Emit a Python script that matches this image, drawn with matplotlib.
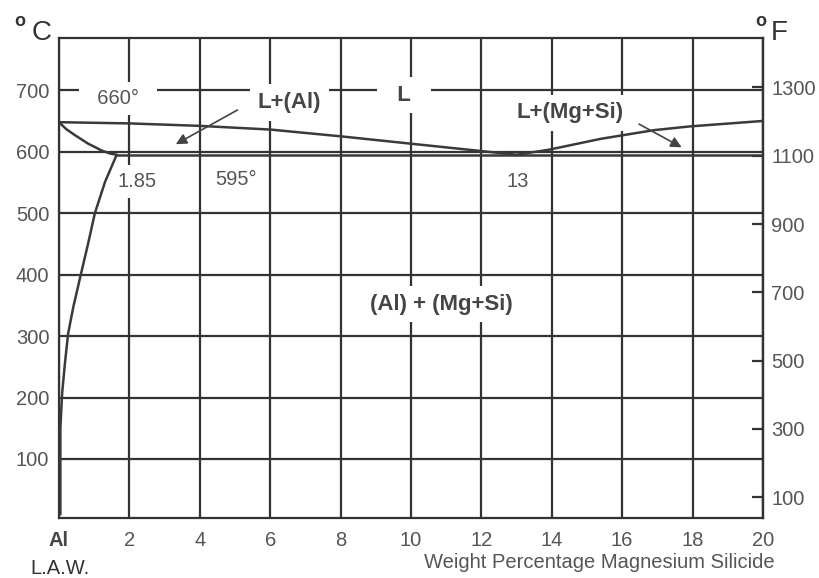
import matplotlib
matplotlib.use("Agg")
import matplotlib.pyplot as plt

plt.rcParams["font.family"] = ["Liberation Sans", "DejaVu Sans"]

# Al - Mg2Si pseudo-binary phase diagram
liq_al_x = [0, 2, 4, 6, 8, 10, 12, 13]
liq_al_t = [648, 646, 642, 636, 625, 613, 601, 595]

liq_mg_x = [13, 13.9, 15.4, 16.9, 17.9, 20]
liq_mg_t = [595, 603, 621, 635, 641, 650]

solidus_x = [0, 0.2, 0.45, 0.83, 1.21, 1.45, 1.64]
solidus_t = [648, 637, 627, 613, 602, 597, 595]

solvus_x = [0.04, 0.04, 0.09, 0.17, 0.26, 0.41, 0.6, 0.83, 1.02, 1.31, 1.64]
solvus_t = [10, 150, 207, 256, 304, 348, 395, 451, 500, 551, 595]

eutectic_x = [1.64, 20]
eutectic_t = [595, 595]

x_ticks = [0, 2, 4, 6, 8, 10, 12, 14, 16, 18, 20]
x_labels = ["Al", "2", "4", "6", "8", "10", "12", "14", "16", "18", "20"]
c_ticks = [100, 200, 300, 400, 500, 600, 700]
f_ticks = [100, 300, 500, 700, 900, 1100, 1300]

LINE = "#333333"
TXT = "#555555"
BOLD = "#454545"

fig = plt.figure(figsize=(8.19, 5.78), dpi=100)
ax = fig.add_axes([0.072, 0.1038, 0.8596, 0.8305])

ax.set_xlim(0, 20)
ax.set_ylim(4, 785)
ax.set_xticks(x_ticks, x_labels)
ax.set_yticks(c_ticks)
ax.grid(True, color=LINE, linewidth=1.6)
ax.set_axisbelow(True)
for s in ax.spines.values():
    s.set_color(LINE)
    s.set_linewidth(1.6)
ax.tick_params(axis="both", length=0, labelsize=14.5, labelcolor=TXT)
ax.tick_params(axis="x", pad=9)
ax.tick_params(axis="y", pad=7)
al_lbl = ax.get_xticklabels()[0]
al_lbl.set_fontweight("bold")
al_lbl.set_color(BOLD)

sec = ax.secondary_yaxis("right", functions=(lambda c: c * 1.8 + 32, lambda f: (f - 32) / 1.8))
sec.set_yticks(f_ticks)
sec.tick_params(direction="in", length=8, width=1.6, color=LINE, labelsize=14.5,
                labelcolor=TXT, pad=6)
sec.spines["right"].set_color(LINE)
sec.spines["right"].set_linewidth(1.6)

for xs, ts in [(liq_al_x, liq_al_t), (liq_mg_x, liq_mg_t), (solidus_x, solidus_t),
               (solvus_x, solvus_t), (eutectic_x, eutectic_t)]:
    ax.plot(xs, ts, color="#3a3a3a", linewidth=1.8, zorder=4, solid_capstyle="round")

box = dict(facecolor="white", edgecolor="none", boxstyle="square,pad=0.35")
ax.text(1.68, 686, "  660°  ", ha="center", va="center", fontsize=14.5, color=TXT, bbox=box, zorder=3)
ax.text(6.55, 680, "L+(Al)", ha="center", va="center", fontsize=16, fontweight="bold",
        color=BOLD, bbox=box, zorder=3)
ax.text(9.8, 692, "  L  ", ha="center", va="center", fontsize=16, fontweight="bold",
        color=BOLD, bbox=box, zorder=3)
ax.text(14.52, 663, "L+(Mg+Si)", ha="center", va="center", fontsize=16, fontweight="bold",
        color=BOLD, bbox=box, zorder=3)
ax.text(2.23, 552, "1.85", ha="center", va="center", fontsize=14.5, color=TXT, bbox=box, zorder=3)
ax.text(5.03, 554, "595°", ha="center", va="center", fontsize=14.5, color=TXT, bbox=box, zorder=3)
ax.text(13.04, 552, "13", ha="center", va="center", fontsize=14.5, color=TXT, bbox=box, zorder=3)
ax.text(10.87, 352, "(Al) + (Mg+Si)", ha="center", va="center", fontsize=16, fontweight="bold",
        color=BOLD, bbox=box, zorder=3)

arrow = dict(arrowstyle="-|>", color="#444444", linewidth=1.2, mutation_scale=16)
ax.annotate("", xy=(3.25, 610), xytext=(5.14, 670), arrowprops=arrow, zorder=5)
ax.annotate("", xy=(17.76, 605), xytext=(16.41, 647), arrowprops=arrow, zorder=5)

# unit labels and footer
fig.text(0.018, 0.962, "o", fontsize=13, fontweight="bold", color="#333333", ha="left", va="center")
fig.text(0.039, 0.943, "C", fontsize=20, color="#333333", ha="left", va="center")
fig.text(0.922, 0.962, "o", fontsize=13, fontweight="bold", color="#333333", ha="left", va="center")
fig.text(0.941, 0.943, "F", fontsize=20, color="#333333", ha="left", va="center")
fig.text(0.946, 0.026, "Weight Percentage Magnesium Silicide", fontsize=14.5, color=TXT,
         ha="right", va="center")
fig.text(0.037, 0.017, "L.A.W.", fontsize=14.5, color="#333333", ha="left", va="center")

fig.savefig("out.png", dpi=100)
